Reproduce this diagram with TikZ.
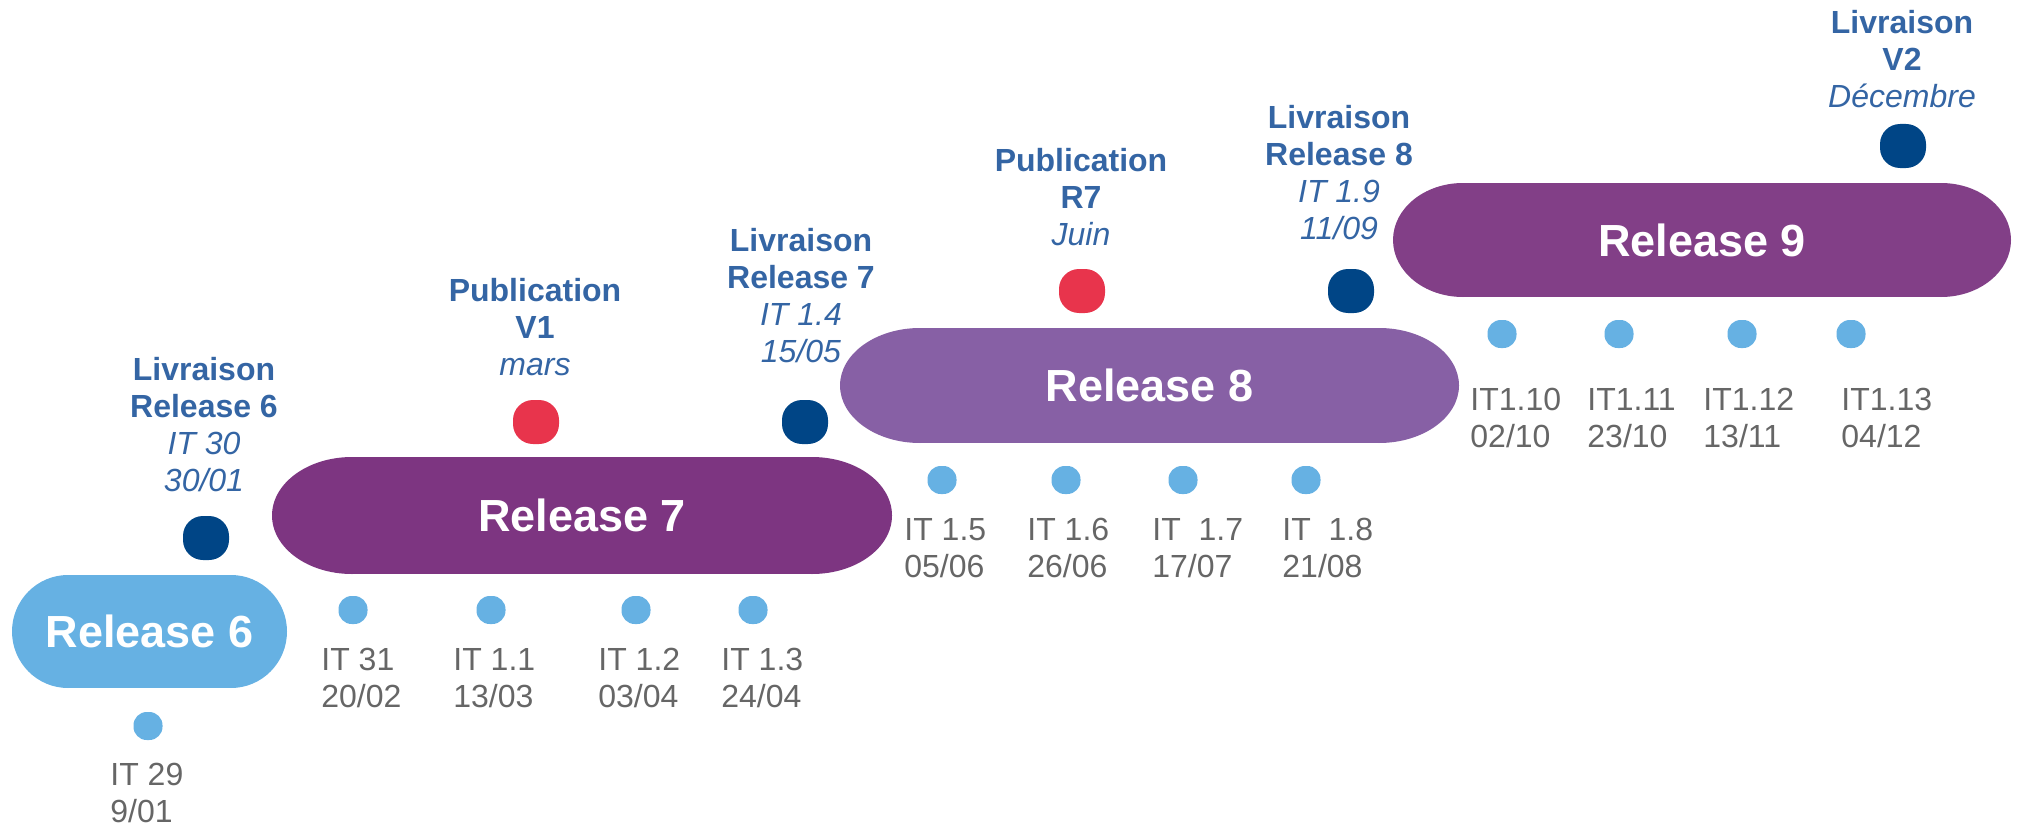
\documentclass[tikz,border=0pt]{standalone}
\usepackage{fontspec}
\setmainfont{Liberation Sans}
\usepackage{tikz}

\definecolor{relsix}{HTML}{66B1E3}
\definecolor{relseven}{HTML}{7D3581}
\definecolor{releight}{HTML}{8760A5}
\definecolor{relnine}{HTML}{823F87}
\definecolor{livblue}{HTML}{004586}
\definecolor{pubred}{HTML}{E8344C}
\definecolor{msblue}{HTML}{3465A4}
\definecolor{itgray}{HTML}{666666}

\begin{document}
\begin{tikzpicture}[x=0.5pt,y=-0.5pt,
  pill/.style n args={3}{inner sep=0pt,text=white,font=\fontsize{22.5}{27}\selectfont\bfseries,
    path picture={
      \fill[#1] ([xshift=#2]path picture bounding box.south west) rectangle ([xshift=-#2]path picture bounding box.north east);
      \fill[#1] ([xshift=#2]path picture bounding box.west) ellipse[x radius=#2,y radius=#3];
      \fill[#1] ([xshift=-#2]path picture bounding box.east) ellipse[x radius=#2,y radius=#3];}},
  bigdot/.style={rectangle,rounded corners=10pt,minimum width=23pt,minimum height=22pt,inner sep=0pt},
  itdot/.style={rectangle,rounded corners=6.6pt,fill=relsix,minimum width=14.5pt,minimum height=14pt,inner sep=0pt},
  itlbl/.style={anchor=north west,inner sep=0pt,align=left,text=itgray,font=\fontsize{16}{18.5}\selectfont},
  mslbl/.style={anchor=north,inner sep=0pt,align=center,text=msblue,font=\fontsize{16}{18.5}\selectfont}]
\useasboundingbox (0,0) rectangle (2018,829);
% releases
\node[pill={relsix}{28pt}{28.25pt},minimum width=137.5pt,minimum height=56.5pt] (r6) at (149.5,631.5) {Release 6};
\node[pill={relseven}{40pt}{29.25pt},minimum width=310pt,minimum height=58.5pt] (r7) at (582,515.5) {Release 7};
\node[pill={releight}{40pt}{28.75pt},minimum width=309.5pt,minimum height=57.5pt] (r8) at (1149.5,385.5) {Release 8};
\node[pill={relnine}{35pt}{28.5pt},minimum width=309pt,minimum height=57pt] (r9) at (1702,240) {Release 9};
% milestones
\node[bigdot,fill=livblue] (liv6) at (206,538) {};
\node[bigdot,fill=pubred] (pubv1) at (536,422) {};
\node[bigdot,fill=livblue] (liv7) at (805,422) {};
\node[bigdot,fill=pubred] (pubr7) at (1082,291) {};
\node[bigdot,fill=livblue] (liv8) at (1351,291) {};
\node[bigdot,fill=livblue] (livv2) at (1903,146) {};
\node[mslbl] (liv6txt) at (204,357) {\textbf{Livraison}\\\textbf{Release 6}\\\textit{IT 30}\\\textit{30/01}};
\node[mslbl] (pubv1txt) at (535,278) {\textbf{Publication}\\\textbf{V1}\\\textit{mars}};
\node[mslbl] (liv7txt) at (801,228) {\textbf{Livraison}\\\textbf{Release 7}\\\textit{IT 1.4}\\\textit{15/05}};
\node[mslbl] (pubr7txt) at (1081,148) {\textbf{Publication}\\\textbf{R7}\\\textit{Juin}};
\node[mslbl] (liv8txt) at (1339,105) {\textbf{Livraison}\\\textbf{Release 8}\\\textit{IT 1.9}\\\textit{11/09}};
\node[mslbl] (livv2txt) at (1902,10) {\textbf{Livraison}\\\textbf{V2}\\\textit{Décembre}};
% iterations
\node[itdot] (it29) at (148,726) {};
\node[itlbl] (it29txt) at (110,763) {IT 29\\9/01};
\node[itdot] (it31) at (353,610) {};
\node[itlbl] (it31txt) at (321,648) {IT 31\\20/02};
\node[itdot] (it11) at (491,610) {};
\node[itlbl] (it11txt) at (453,648) {IT 1.1\\13/03};
\node[itdot] (it12) at (636,610) {};
\node[itlbl] (it12txt) at (598,648) {IT 1.2\\03/04};
\node[itdot] (it13) at (753,610) {};
\node[itlbl] (it13txt) at (721,648) {IT 1.3\\24/04};
\node[itdot] (it15) at (942,480) {};
\node[itlbl] (it15txt) at (904,518) {IT 1.5\\05/06};
\node[itdot] (it16) at (1066,480) {};
\node[itlbl] (it16txt) at (1027,518) {IT 1.6\\26/06};
\node[itdot] (it17) at (1183,480) {};
\node[itlbl] (it17txt) at (1152,518) {IT\ \ 1.7\\17/07};
\node[itdot] (it18) at (1306,480) {};
\node[itlbl] (it18txt) at (1282,518) {IT\ \ 1.8\\21/08};
\node[itdot] (it110) at (1502,334) {};
\node[itlbl] (it110txt) at (1470,388) {IT1.10\\02/10};
\node[itdot] (it111) at (1619,334) {};
\node[itlbl] (it111txt) at (1587,388) {IT1.11\\23/10};
\node[itdot] (it112) at (1742,334) {};
\node[itlbl] (it112txt) at (1703,388) {IT1.12\\13/11};
\node[itdot] (it113) at (1851,334) {};
\node[itlbl] (it113txt) at (1841,388) {IT1.13\\04/12};
\end{tikzpicture}
\end{document}
